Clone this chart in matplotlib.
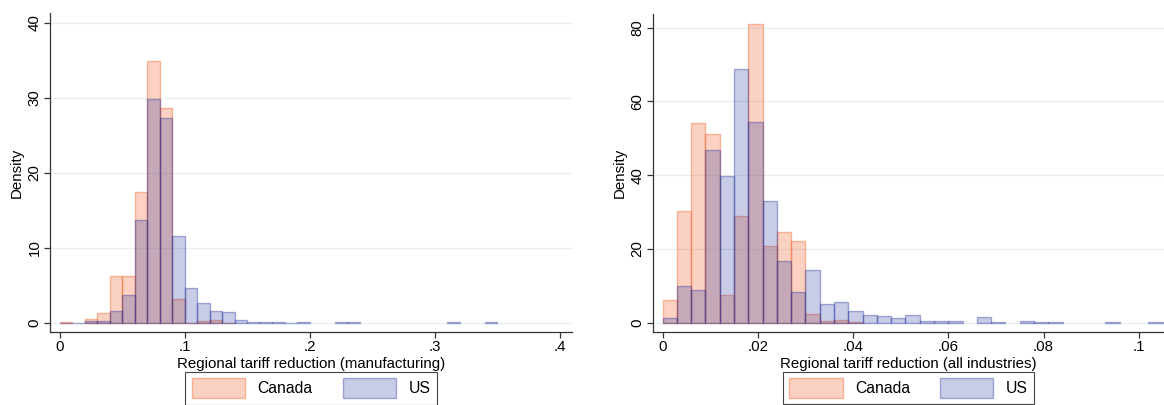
import numpy as np
import matplotlib
matplotlib.use("Agg")
import matplotlib.pyplot as plt
from matplotlib.patches import Patch

plt.rcParams['font.family'] = ['Liberation Sans', 'DejaVu Sans']

# manufacturing histogram, bins of width 0.01 starting at 0
mfg_width = 0.01
mfg_canada = [0.1, 0.0, 0.5, 1.3, 6.2, 6.2, 17.4, 34.9, 28.6, 3.2,
              0.05, 0.27, 0.4, 0.05, 0, 0, 0, 0, 0, 0,
              0, 0, 0, 0, 0, 0, 0, 0, 0, 0,
              0, 0, 0, 0, 0]
mfg_us = [0.05, 0.05, 0.3, 0.2, 1.6, 3.7, 13.7, 29.8, 27.3, 11.6,
          4.7, 2.6, 1.55, 1.4, 0.36, 0.1, 0.07, 0.07, 0.05, 0.07,
          0, 0, 0.07, 0.1, 0, 0, 0, 0, 0, 0,
          0, 0.08, 0, 0, 0.08]

# all-industries histogram, bins of width 0.003 starting at 0
all_width = 0.003
all_canada = [6.2, 30.4, 54.1, 51.3, 7.5, 29.0, 81.1, 20.7, 24.5, 22.1,
              2.4, 0.6, 0.7, 0.2, 0, 0, 0, 0, 0, 0,
              0, 0, 0, 0, 0, 0, 0, 0, 0, 0,
              0, 0, 0, 0, 0]
all_us = [1.3, 10.1, 8.9, 46.9, 39.9, 68.9, 54.3, 33.1, 16.7, 8.4,
          14.2, 5.0, 5.7, 3.3, 2.0, 1.8, 1.3, 2.0, 0.5, 0.5,
          0.55, 0, 1.6, 0.2, 0, 0.4, 0.15, 0.15, 0, 0,
          0, 0.15, 0, 0, 0.25]

mfg_xticks = [0, 0.1, 0.2, 0.3, 0.4]
mfg_xlabels = ["0", ".1", ".2", ".3", ".4"]
mfg_yticks = [0, 10, 20, 30, 40]
all_xticks = [0, 0.02, 0.04, 0.06, 0.08, 0.1]
all_xlabels = ["0", ".02", ".04", ".06", ".08", ".1"]
all_yticks = [0, 20, 40, 60, 80]

CAN = '#F26B38'
USC = '#1A2A9A'
can_face = matplotlib.colors.to_rgba(CAN, 0.30)
can_edge = matplotlib.colors.to_rgba(CAN, 0.45)
us_face = matplotlib.colors.to_rgba(USC, 0.24)
us_edge = matplotlib.colors.to_rgba(USC, 0.36)
GRID = '#E6EFF1'
AX = '#333333'
FS = 10.8

fig = plt.figure(figsize=(11.64, 4.05), dpi=100)
ax1 = fig.add_axes([50 / 1164, 73 / 405, 522 / 1164, 319 / 405])
ax2 = fig.add_axes([653 / 1164, 73 / 405, 511 / 1164, 318 / 405])


def draw(ax, width, canada, us, xticks, xlabels, yticks, xlim, ylim, xlabel):
    edges = np.arange(len(canada)) * width
    c = np.array(canada)
    u = np.array(us)
    mc = c > 0
    mu = u > 0
    ax.bar(edges[mc], c[mc], width=width, align='edge', facecolor=can_face,
           edgecolor=can_edge, linewidth=1.0, zorder=2)
    ax.bar(edges[mu], u[mu], width=width, align='edge', facecolor=us_face,
           edgecolor=us_edge, linewidth=1.0, zorder=3)
    ax.set_xlim(*xlim)
    ax.set_ylim(*ylim)
    ax.set_xticks(xticks)
    ax.set_xticklabels(xlabels, fontsize=FS)
    ax.set_yticks(yticks)
    ax.set_yticklabels([str(t) for t in yticks], fontsize=FS, rotation=90,
                       va='center')
    for t in yticks:
        ax.axhline(t, color=GRID, lw=1.0, zorder=1)
    for s in ['top', 'right']:
        ax.spines[s].set_visible(False)
    for s in ['left', 'bottom']:
        ax.spines[s].set_color(AX)
        ax.spines[s].set_linewidth(0.9)
    ax.tick_params(direction='out', length=4, width=0.9, color=AX, pad=2)
    ax.set_xlabel(xlabel, fontsize=FS, labelpad=2)
    ax.set_ylabel("Density", fontsize=FS, labelpad=3)
    handles = [Patch(facecolor=can_face, edgecolor=can_edge, label='Canada'),
               Patch(facecolor=us_face, edgecolor=us_edge, label='US')]
    leg = ax.legend(handles=handles, loc='upper center', ncol=2,
                    bbox_to_anchor=(0.5, -0.125), fontsize=FS + 0.5,
                    fancybox=False, framealpha=1, edgecolor='#444444',
                    handlelength=3.4, handleheight=1.6, columnspacing=1.9,
                    handletextpad=0.8, borderpad=0.4, borderaxespad=0)
    leg.get_frame().set_linewidth(0.8)


draw(ax1, mfg_width, mfg_canada, mfg_us, mfg_xticks, mfg_xlabels, mfg_yticks,
     (-0.008, 0.41), (-1.2, 41.3), "Regional tariff reduction (manufacturing)")
draw(ax2, all_width, all_canada, all_us, all_xticks, all_xlabels, all_yticks,
     (-0.002, 0.1053), (-2.5, 83.7), "Regional tariff reduction (all industries)")

fig.savefig("out.png", dpi=100)
